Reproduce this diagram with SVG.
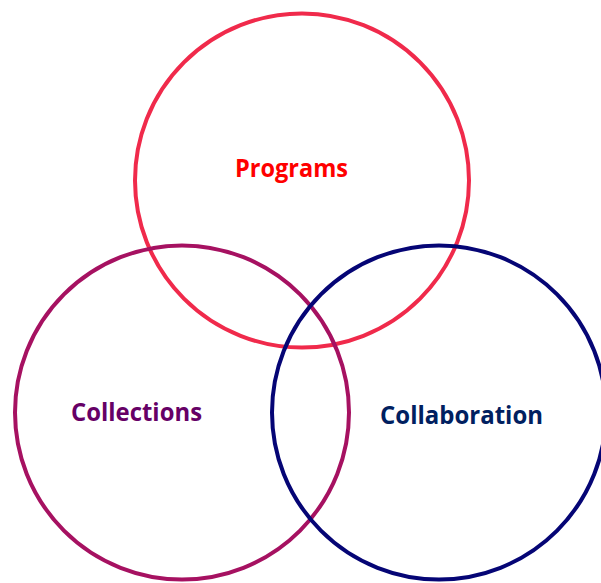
<svg xmlns="http://www.w3.org/2000/svg" width="601" height="583" viewBox="0 0 601 583">
<style>
.c{fill:none;stroke-width:4}
.t{font-family:"Open Sans","Noto Sans","Liberation Sans",sans-serif;font-weight:bold;font-size:25px}
</style>
<rect width="601" height="583" fill="#fff"/>
<g id="programs">
<circle class="c" cx="302" cy="180.5" r="167" stroke="#F02A4B"/>
<text class="t" x="235" y="177" fill="#FF0000" textLength="113" lengthAdjust="spacingAndGlyphs">Programs</text>
</g>
<g id="collections">
<circle class="c" cx="182" cy="412.5" r="167" stroke="#A61161"/>
<text class="t" x="71" y="421" fill="#660066" textLength="131" lengthAdjust="spacingAndGlyphs">Collections</text>
</g>
<g id="collaboration">
<circle class="c" cx="439" cy="412.5" r="167" stroke="#050575"/>
<text class="t" x="380" y="424" fill="#002060" textLength="163" lengthAdjust="spacingAndGlyphs">Collaboration</text>
</g>
<g id="connectors"/>
</svg>
